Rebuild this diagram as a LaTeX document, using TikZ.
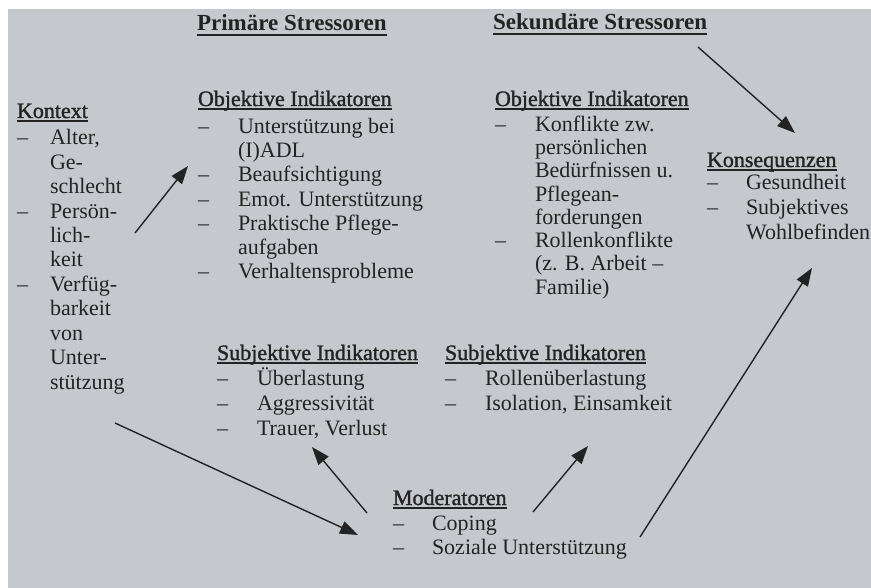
\documentclass[tikz,border=0pt]{standalone}
\usepackage{fontspec}
\setmainfont{Liberation Serif}
\newfontfamily\hdfont[FakeBold=1.4]{Liberation Serif}
\usetikzlibrary{arrows.meta}
\definecolor{paper}{HTML}{C5C9CD}
\definecolor{ink}{HTML}{232323}
\begin{document}
\begin{tikzpicture}[x=1pt,y=-1pt,
  txt/.style={anchor=base west,inner sep=0pt,outer sep=0pt,text=ink,font=\fontsize{22}{24}\selectfont},
  hd/.style={anchor=base west,inner sep=0pt,outer sep=0pt,text=ink,font=\hdfont\fontsize{22}{24}\selectfont},
  ttl/.style={anchor=base west,inner sep=0pt,outer sep=0pt,text=ink,font=\fontsize{23}{26}\selectfont\bfseries},
  uline/.style={draw=ink,line width=1.3pt},
  arr/.style={draw=ink,line width=1.4pt,-{Triangle[length=18pt,width=13pt]}}]
\useasboundingbox (0,0) rectangle (871,588);
\fill[white] (0,0) rectangle (871,588);
\fill[paper] (8,9) rectangle (871,588);

% titles
\node[ttl] (tp) at (197,31) {Primäre Stressoren};
\node[ttl] (ts) at (493,30) {Sekundäre Stressoren};
\draw[uline] ([yshift=-4pt]tp.base west) -- ([yshift=-4pt]tp.base east);
\draw[uline] ([yshift=-4pt]ts.base west) -- ([yshift=-4pt]ts.base east);

% Kontext
\node[hd] (kh) at (17,118) {Kontext};
\draw[uline] ([yshift=-3pt]kh.base west) -- ([yshift=-3pt]kh.base east);
\node[txt] (kd1) at (17,145) {–};
\node[txt] (kd2) at (17,218.2) {–};
\node[txt] (kd3) at (17,291.4) {–};
\node[txt] (k1) at (50,145) {Alter,};
\node[txt] (k2) at (50,169.4) {Ge-};
\node[txt] (k3) at (50,193.8) {schlecht};
\node[txt] (k4) at (50,218.2) {Persön-};
\node[txt] (k5) at (50,242.6) {lich-};
\node[txt] (k6) at (50,267) {keit};
\node[txt] (k7) at (50,291.4) {Verfüg-};
\node[txt] (k8) at (50,315.8) {barkeit};
\node[txt] (k9) at (50,340.2) {von};
\node[txt] (k10) at (50,364.6) {Unter-};
\node[txt] (k11) at (50,389) {stützung};

% Primaere objektive Indikatoren
\node[hd] (ph) at (198,106) {Objektive Indikatoren};
\draw[uline] ([yshift=-3pt]ph.base west) -- ([yshift=-3pt]ph.base east);
\node[txt] (pd1) at (198,134) {–};
\node[txt] (pd2) at (198,182) {–};
\node[txt] (pd3) at (198,207) {–};
\node[txt] (pd4) at (198,231) {–};
\node[txt] (pd5) at (198,279) {–};
\node[txt] (p1) at (238,134) {Unterstützung bei};
\node[txt] (p2) at (238,158) {(I)ADL};
\node[txt] (p3) at (238,182) {Beaufsichtigung};
\node[txt] (p4) at (238,207) {Emot. Unterstützung};
\node[txt] (p5) at (238,231) {Praktische Pflege-};
\node[txt] (p6) at (238,255) {aufgaben};
\node[txt] (p7) at (238,279) {Verhaltensprobleme};

% Sekundaere objektive Indikatoren
\node[hd] (sh) at (495,106) {Objektive Indikatoren};
\draw[uline] ([yshift=-3pt]sh.base west) -- ([yshift=-3pt]sh.base east);
\node[txt] (sd1) at (495,132) {–};
\node[txt] (sd2) at (495,248) {–};
\node[txt] (s1) at (535,132) {Konflikte zw.};
\node[txt] (s2) at (535,155) {persönlichen};
\node[txt] (s3) at (535,178) {Bedürfnissen u.};
\node[txt] (s4) at (535,201.5) {Pflegean-};
\node[txt] (s5) at (535,224.5) {forderungen};
\node[txt] (s6) at (535,248) {Rollenkonflikte};
\node[txt] (s7) at (535,271) {(z. B. Arbeit –};
\node[txt] (s8) at (535,294.5) {Familie)};

% Konsequenzen
\node[hd] (ch) at (707,167) {Konsequenzen};
\draw[uline] ([yshift=-3pt]ch.base west) -- ([yshift=-3pt]ch.base east);
\node[txt] (cd1) at (707,190) {–};
\node[txt] (cd2) at (707,215) {–};
\node[txt] (c1) at (746,190) {Gesundheit};
\node[txt] (c2) at (746,215) {Subjektives};
\node[txt] (c3) at (746,240) {Wohlbefinden};

% Subjektive Indikatoren (primaer)
\node[hd] (uh) at (217,360) {Subjektive Indikatoren};
\draw[uline] ([yshift=-3pt]uh.base west) -- ([yshift=-3pt]uh.base east);
\node[txt] (ud1) at (217,385) {–};
\node[txt] (ud2) at (217,410) {–};
\node[txt] (ud3) at (217,435) {–};
\node[txt] (u1) at (257,385) {Überlastung};
\node[txt] (u2) at (257,410) {Aggressivität};
\node[txt] (u3) at (257,435) {Trauer, Verlust};

% Subjektive Indikatoren (sekundaer)
\node[hd] (vh) at (445,360) {Subjektive Indikatoren};
\draw[uline] ([yshift=-3pt]vh.base west) -- ([yshift=-3pt]vh.base east);
\node[txt] (vd1) at (445,385) {–};
\node[txt] (vd2) at (445,410) {–};
\node[txt] (v1) at (485,385) {Rollenüberlastung};
\node[txt] (v2) at (485,410) {Isolation, Einsamkeit};

% Moderatoren
\node[hd] (mh) at (393,505) {Moderatoren};
\draw[uline] ([yshift=-3pt]mh.base west) -- ([yshift=-3pt]mh.base east);
\node[txt] (md1) at (393,530) {–};
\node[txt] (md2) at (393,554) {–};
\node[txt] (m1) at (432,530) {Coping};
\node[txt] (m2) at (432,554) {Soziale Unterstützung};

% arrow end points
\coordinate (a1s) at (135,233); \coordinate (a1e) at (188,166);
\coordinate (a2s) at (698,47);  \coordinate (a2e) at (795,133);
\coordinate (a3s) at (115,423); \coordinate (a3e) at (358,535);
\coordinate (a4s) at (367,513); \coordinate (a4e) at (312,447);
\coordinate (a5s) at (533,512); \coordinate (a5e) at (588,446);
\coordinate (a6s) at (640,537); \coordinate (a6e) at (812,268);

\draw[arr] (a1s) -- (a1e);
\draw[arr] (a2s) -- (a2e);
\draw[arr] (a3s) -- (a3e);
\draw[arr] (a4s) -- (a4e);
\draw[arr] (a5s) -- (a5e);
\draw[arr] (a6s) -- (a6e);
\end{tikzpicture}
\end{document}
